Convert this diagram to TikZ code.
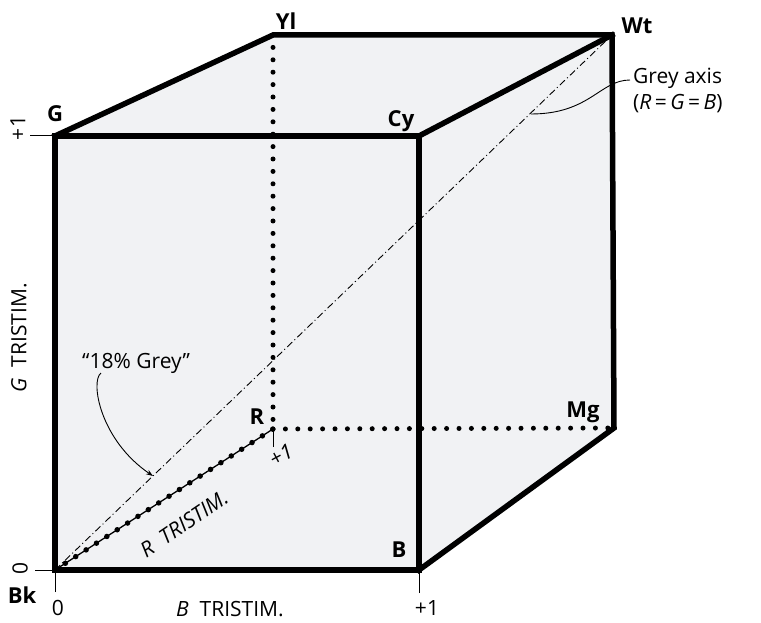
\documentclass[tikz,border=0pt]{standalone}
\usepackage{fontspec}
\setmainfont{Open Sans}
\usetikzlibrary{arrows.meta}
\definecolor{cubegrey}{RGB}{241,242,244}
\begin{document}
\begin{tikzpicture}[x=1pt,y=-1pt,
  edge/.style={line width=5.5pt, line join=miter, line cap=rect},
  vlab/.style={font=\fontsize{22}{26}\selectfont\bfseries, inner sep=0pt},
  tlab/.style={font=\fontsize{21}{25}\selectfont, inner sep=0pt},
  ticky/.style={line width=1pt},
  hidden/.style={line width=5pt, dash pattern=on 0pt off 12.4pt, line cap=round},
  redge/.style={line width=5.5pt, dash pattern=on 0pt off 12.35pt, line cap=round},
  greyaxis/.style={line width=0.9pt, dash pattern=on 7pt off 3pt on 1pt off 3pt},
  leader/.style={line width=0.9pt}]
\useasboundingbox (0,0) rectangle (761,623);
\coordinate (Bk) at (55,570);
\coordinate (G) at (55,136);
\coordinate (Cy) at (419,136);
\coordinate (B) at (419,570);
\coordinate (Yl) at (273,35);
\coordinate (Wt) at (612,35);
\coordinate (R) at (273,429);
\coordinate (Mg) at (614,428);
% fill
\fill[cubegrey] (Bk) -- (G) -- (Yl) -- (Wt) -- (Mg) -- (B) -- cycle;
% hidden edges
\draw[hidden] (Yl) -- (R);
\draw[hidden] (R) -- (Mg);
\draw[line width=1.3pt] (Bk) -- (R);
\draw[redge] (Bk) -- (R);
% grey axis
\draw[greyaxis] (Bk) -- (Wt);
% visible edges
\draw[edge] (G) -- (Cy) -- (B) -- (Bk) -- cycle;
\draw[edge] (G) -- (Yl) -- (Wt) -- (Mg) -- (B);
\draw[edge] (Cy) -- (Wt);
% ticks
\coordinate (tG) at (30,136);
\coordinate (tBkL) at (35,570);
\coordinate (tBkD) at (55,592);
\coordinate (tBD) at (419,593);
\coordinate (tRD) at (273,447);
\draw[ticky] (tG) -- (G);
\draw[ticky] (tBkL) -- (Bk);
\draw[ticky] (tBkD) -- (Bk);
\draw[ticky] (tBD) -- (B);
\draw[ticky] (tRD) -- (R);
% vertex labels
\node[vlab] (lYl) at (286,21) {Yl};
\node[vlab] (lWt) at (637,26) {Wt};
\node[vlab] (lG) at (55,114) {G};
\node[vlab] (lCy) at (401,121) {Cy};
\node[vlab] (lR) at (257,417) {R};
\node[vlab] (lMg) at (583,412) {Mg};
\node[vlab] (lB) at (399,550) {B};
\node[vlab] (lBk) at (22,595) {Bk};
% scale labels
\node[tlab, rotate=90] (pG) at (18,128) {+1};
\node[tlab, rotate=90] (zG) at (20,568) {0};
\node[tlab] (zB) at (58,608) {0};
\node[tlab] (pB) at (427,608) {+1};
\node[tlab, rotate=28] (pR) at (281,455) {\itshape +1};
\node[tlab, anchor=base west] (bt) at (176,616) {\itshape B\upshape\ \ TRISTIM.};
\node[tlab, rotate=90] (gt) at (19,338) {\itshape G\upshape\ \ TRISTIM.};
\node[tlab, rotate=34, font=\fontsize{21}{25}\selectfont\itshape] (rt) at (184,524) {R\ \ TRISTIM.};
% annotations
\node[tlab, anchor=base west] (ga1) at (633,84) {Grey axis};
\node[tlab, anchor=base west] (ga2) at (633,110) {(\textit{R}\,=\,\textit{G}\,=\,\textit{B})};
\node[tlab, anchor=base west] (g18) at (82,368) {“18\% Grey”};
\coordinate (ga0) at (630,80);
\coordinate (gaEnd) at (531,114);
\draw[leader] (ga0) .. controls (600,80) and (590,114) .. (gaEnd);
\coordinate (g18a) at (101,373);
\coordinate (g18b) at (153,476);
\draw[leader, -{Stealth[length=7pt,width=5pt]}] (g18a) .. controls (90,381) and (100,440) .. (g18b);
\end{tikzpicture}
\end{document}
